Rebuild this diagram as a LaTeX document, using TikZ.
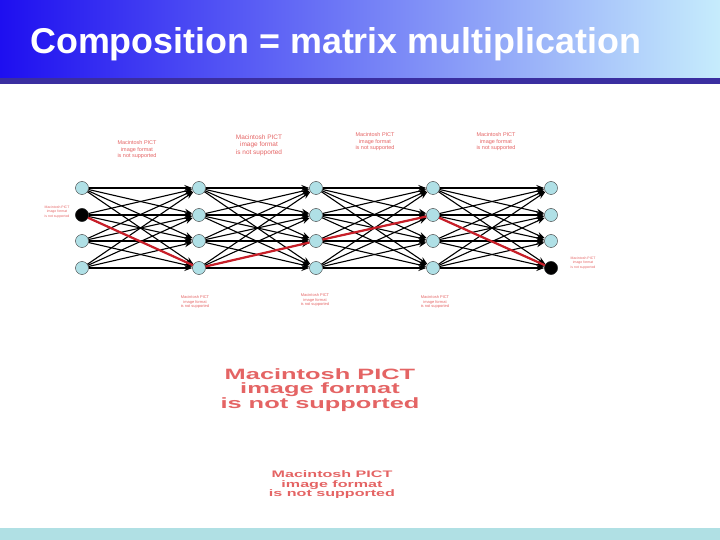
\documentclass[tikz,border=0pt]{standalone}
\usepackage{fontspec}
\setmainfont{Liberation Sans}
\newfontfamily\pictfont[FakeStretch=1.7]{Liberation Sans}
\usetikzlibrary{arrows.meta}

\definecolor{nodefill}{RGB}{176,224,230}
\definecolor{pictred}{RGB}{228,100,100}
\definecolor{pathred}{RGB}{200,30,40}
\definecolor{bannerblue}{RGB}{30,15,240}
\definecolor{bannerlight}{RGB}{198,236,252}
\definecolor{stripblue}{RGB}{58,46,160}
\definecolor{footcyan}{RGB}{176,224,228}

\newcommand{\picttext}{Macintosh PICT\\image format\\is not supported}

\tikzset{
    unit/.style={circle,draw=black!80,fill=nodefill,minimum size=13bp,inner sep=0pt},
    chosen/.style={unit,fill=black},
    link/.style={-{Stealth[length=8bp,width=6bp]},line width=1.1bp},
    redlink/.style={pathred,line width=2.2bp},
    pict/.style={pictred,align=center,inner sep=0pt}
}

\begin{document}
\begin{tikzpicture}[x=1bp,y=-1bp]
            \useasboundingbox (0,0) rectangle (720,540);

            % banner and footer
            \shade[left color=bannerblue,right color=bannerlight] (0,0) rectangle (720,78);
            \fill[stripblue] (0,78) rectangle (720,84);
            \fill[footcyan] (0,528) rectangle (720,540);
            \node[anchor=base west,text=white,inner sep=0pt,font=\bfseries\fontsize{36}{40}\selectfont] (title) at (30,54) {Composition = matrix multiplication};

            % layers
            \foreach \i/\x in {1/82,2/199,3/316,4/433,5/551}
            {
                \foreach \j/\y in {1/188,2/215,3/241,4/268}
                {
                    \node[unit] (c\i-\j) at (\x,\y) {};
                }
            }
            \node[chosen] (c1-2) at (82,215) {};
            \node[chosen] (c5-4) at (551,268) {};

            \foreach \i/\k in {1/2,2/3,3/4,4/5}
            {
                \foreach \a in {1,...,4}
                {
                    \foreach \b in {1,...,4}
                    {
                        \draw[link] (c\i-\a) -- (c\k-\b);
                    }
                }
            }

            \draw[redlink] (c1-2) -- (c2-4) -- (c3-3) -- (c4-2) -- (c5-4);

            % missing pictures
            \node[pict,font=\fontsize{5.5}{6.5}\selectfont] (p1) at (137,150) {\picttext};
            \node[pict,font=\fontsize{6.5}{7.5}\selectfont] (p2) at (259,145) {\picttext};
            \node[pict,font=\fontsize{5.5}{6.5}\selectfont] (p3) at (375,142) {\picttext};
            \node[pict,font=\fontsize{5.5}{6.5}\selectfont] (p4) at (496,142) {\picttext};
            \node[pict,font=\fontsize{3.5}{4.5}\selectfont] (pl) at (57,212) {\picttext};
            \node[pict,font=\fontsize{3.5}{4.5}\selectfont] (pr) at (583,263) {\picttext};
            \node[pict,font=\fontsize{4}{4.5}\selectfont] (q1) at (195,302) {\picttext};
            \node[pict,font=\fontsize{4}{4.5}\selectfont] (q2) at (315,300) {\picttext};
            \node[pict,font=\fontsize{4}{4.5}\selectfont] (q3) at (435,302) {\picttext};
            \node[pict,font=\pictfont\bfseries\fontsize{15}{14.5}\selectfont] (big) at (320,390) {\picttext};
            \node[pict,font=\pictfont\bfseries\fontsize{9.5}{9.5}\selectfont] (mid) at (332,485) {\picttext};
\end{tikzpicture}
\end{document}
